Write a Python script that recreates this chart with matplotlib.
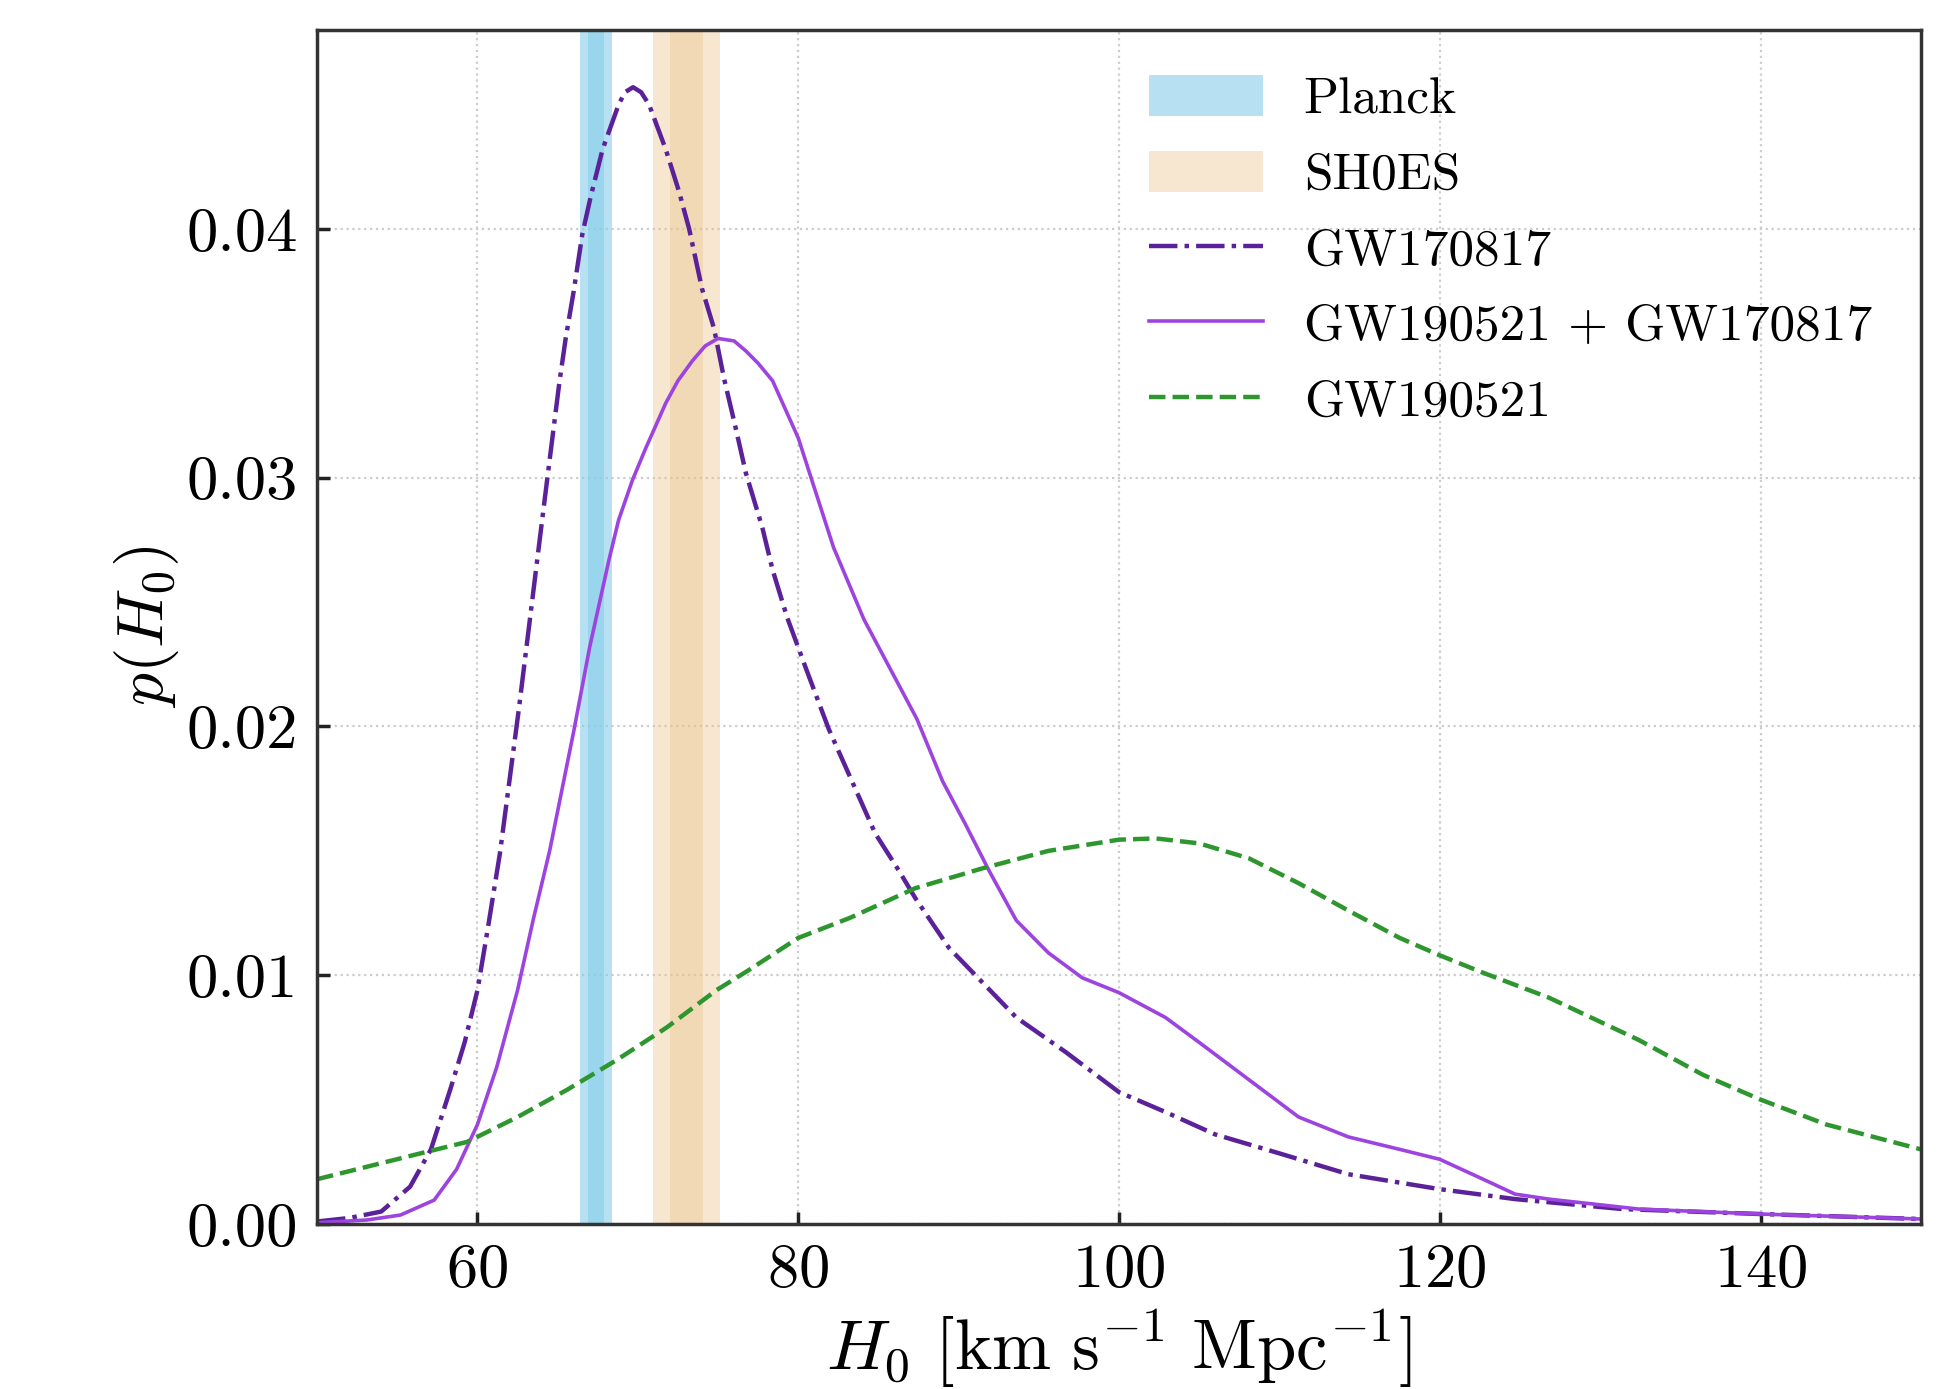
import numpy as np
import matplotlib
matplotlib.use('Agg')
import matplotlib.pyplot as plt
from matplotlib.ticker import FormatStrFormatter

plt.rcParams['font.family'] = 'serif'
plt.rcParams['font.serif'] = ['cmr10']
plt.rcParams['mathtext.fontset'] = 'cm'
plt.rcParams['axes.formatter.use_mathtext'] = True

# H0 posteriors
h0_gw170817 = [50, 52, 54, 55.8, 57.1, 58.3, 59.2, 60.0, 60.6, 61.4, 62.6, 63.84, 64.36,
               65.1, 65.5, 66.0, 66.54, 67.06, 67.8, 68.8, 69.2, 69.7, 70.2, 70.7, 71.74,
               72.57, 73.2, 74.0, 74.75, 75.37, 76.1, 76.73, 77.76, 78.4, 79.3, 80.5, 81.9,
               83.35, 84.8, 86.28, 87.3, 89.4, 91.5, 93.6, 96.7, 100, 102.9, 106.0, 110.2,
               114.3, 120, 124.7, 131.4, 140, 150]
p_gw170817 = [0.0001, 0.00024, 0.0005, 0.0015, 0.003, 0.0054, 0.0073, 0.0094, 0.0117, 0.0149,
              0.0208, 0.0273, 0.0300, 0.0338, 0.0356, 0.0375, 0.0398, 0.0413, 0.0432, 0.0450,
              0.0455, 0.0457, 0.0455, 0.0450, 0.0432, 0.0415, 0.0400, 0.0376, 0.0360, 0.0340,
              0.0320, 0.0302, 0.0280, 0.0263, 0.0244, 0.0223, 0.0199, 0.0178, 0.0157, 0.0142,
              0.0131, 0.0111, 0.0097, 0.0083, 0.0069, 0.0053, 0.0045, 0.0036, 0.0028, 0.0020,
              0.0014, 0.0010, 0.0006, 0.0004, 0.0002]

h0_joint = [50, 53.1, 55.2, 57.3, 58.7, 60.0, 61.2, 62.5, 63.5, 64.5, 66.0, 67.0, 68.2, 68.8,
            69.66, 70.5, 71.74, 72.5, 73.4, 74.2, 75.0, 76.0, 76.73, 77.5, 78.4, 80.0, 81.2,
            82.2, 84.1, 85.75, 87.4, 89.0, 90.4, 91.9, 93.6, 95.6, 97.7, 100, 102.9, 105.0,
            108.1, 111.2, 114.3, 117.5, 120, 122.7, 124.7, 126.8, 132.4, 140, 150]
p_joint = [0.00005, 0.00016, 0.00036, 0.00096, 0.0022, 0.0040, 0.0063, 0.0094, 0.0123, 0.0150,
           0.0198, 0.0232, 0.0267, 0.0283, 0.0299, 0.0312, 0.0330, 0.0339, 0.0347, 0.0353,
           0.0356, 0.0355, 0.0351, 0.0346, 0.0339, 0.0316, 0.0292, 0.0272, 0.0243, 0.0223,
           0.0203, 0.0178, 0.0161, 0.0142, 0.0122, 0.0109, 0.0099, 0.0093, 0.0083, 0.0073,
           0.0058, 0.0043, 0.0035, 0.0030, 0.0026, 0.0018, 0.0012, 0.0010, 0.0006, 0.0004,
           0.0002]

h0_gw190521 = [50, 53.1, 56.2, 59.35, 62.5, 65.6, 68.7, 71.8, 74.9, 76.9, 80.0, 83.2, 87.3,
               91.5, 95.6, 100.0, 102.3, 105.0, 108.1, 111.2, 114.3, 117.5, 120, 122.7, 126.8,
               132.4, 136.4, 140, 144.1, 150]
p_gw190521 = [0.0018, 0.0023, 0.0028, 0.0033, 0.0043, 0.0054, 0.0066, 0.0079, 0.0094, 0.0102,
              0.0115, 0.0123, 0.0135, 0.0143, 0.0150, 0.01545, 0.0155, 0.0153, 0.0147, 0.0137,
              0.0126, 0.0115, 0.0108, 0.0101, 0.0091, 0.0074, 0.0060, 0.0050, 0.0040, 0.0030]

planck_mean, planck_sig = 67.4, 0.5
shoes_mean, shoes_sig = 73.04, 1.04

fig = plt.figure(figsize=(19.37, 13.89), dpi=100)
ax = fig.add_axes([0.1637, 0.1188, 0.828, 0.8596])

for k in (2, 1):
    ax.axvspan(planck_mean - k*planck_sig, planck_mean + k*planck_sig, color='#87CEEB',
               alpha=0.6, lw=0, label='Planck' if k == 2 else None)
for k in (2, 1):
    ax.axvspan(shoes_mean - k*shoes_sig, shoes_mean + k*shoes_sig, color='#EBC48C',
               alpha=0.4, lw=0, label='SH0ES' if k == 2 else None)

ax.plot(h0_gw170817, p_gw170817, ls='-.', color='#5B2199', lw=3.2, label='GW170817')
ax.plot(h0_joint, p_joint, ls='-', color='#9D44E0', lw=2.6, label='GW190521 + GW170817')
ax.plot(h0_gw190521, p_gw190521, ls='--', color='#2E962E', lw=3.2, label='GW190521')

ax.set_xlim(50, 150)
ax.set_ylim(0, 0.048)
ax.set_xticks([60, 80, 100, 120, 140])
ax.set_yticks([0.0, 0.01, 0.02, 0.03, 0.04])
ax.yaxis.set_major_formatter(FormatStrFormatter('%.2f'))
ax.tick_params(direction='in', length=9, width=2.5, labelsize=45, pad=14,
               color='#222222')
ax.grid(True, ls=':', color='#cccccc', lw=1.6)
ax.set_axisbelow(True)
for s in ax.spines.values():
    s.set_linewidth(2.5)
    s.set_color('#333333')

ax.set_xlabel(r'$H_0\ [\mathrm{km\ s^{-1}\ Mpc^{-1}}]$', fontsize=51, labelpad=6)
ax.set_ylabel(r'$p(H_0)$', fontsize=47, labelpad=4)

ax.legend(loc='upper left', bbox_to_anchor=(0.519, 0.962), frameon=False, fontsize=37,
          borderpad=0, borderaxespad=0, handlelength=2.2, handleheight=0.85,
          handletextpad=0.8, labelspacing=0.53)

fig.savefig('out.png', dpi=100)
